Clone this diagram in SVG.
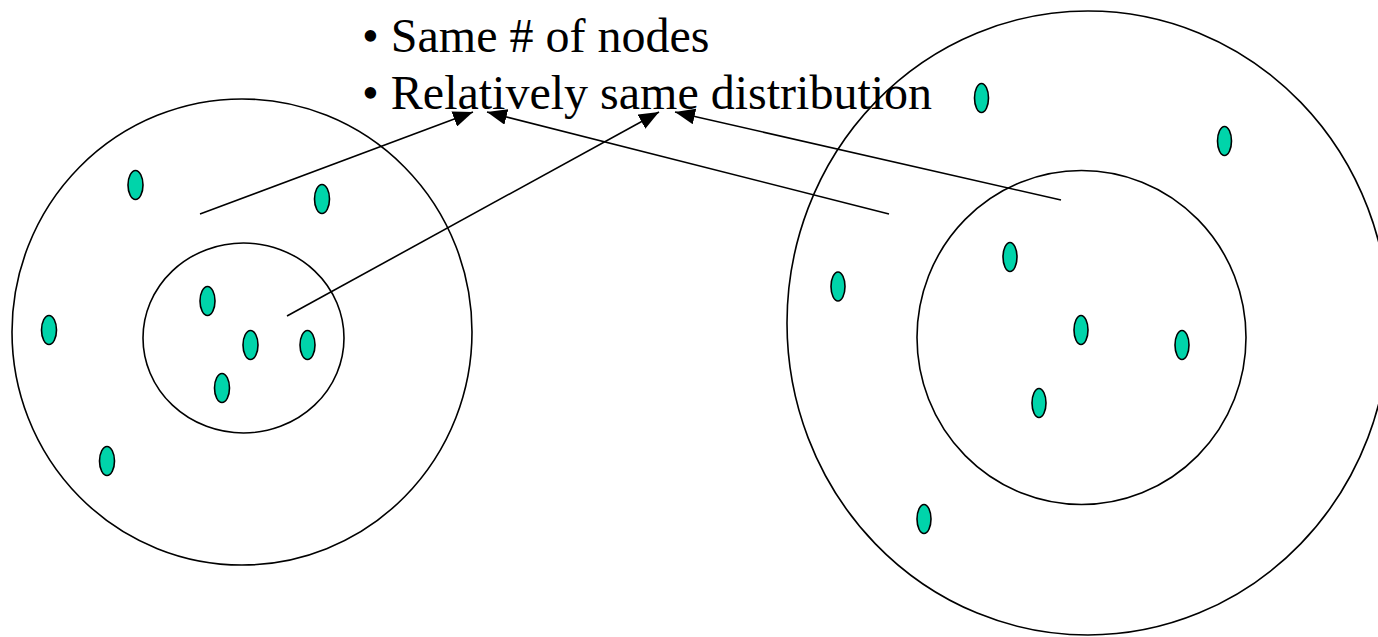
<svg xmlns="http://www.w3.org/2000/svg" width="1378" height="637" viewBox="0 0 1378 637">
<style>
.ring{fill:none;stroke:#000;stroke-width:1.6}
.dot{fill:#00D4AA;stroke:#000;stroke-width:1.6}
.conn{stroke:#000;stroke-width:1.6;fill:none}
.txt{font-family:"Liberation Serif","Times New Roman",serif;font-size:48px;fill:#000}
</style>
<defs>
<marker id="arr" viewBox="0 0 20 16" refX="20" refY="8" markerWidth="20" markerHeight="16" markerUnits="userSpaceOnUse" orient="auto">
<path d="M0,0 L20,8 L0,16 Z" fill="#000"/>
</marker>
</defs>
<rect width="1378" height="637" fill="#fff"/>
<g id="text">
<text class="txt" x="362" y="52">• Same # of nodes</text>
<text class="txt" x="362" y="109">• Relatively same distribution</text>
</g>
<g id="left-cluster">
<ellipse class="ring" cx="242" cy="332" rx="230" ry="233"/>
<ellipse class="ring" cx="243.5" cy="338" rx="100.5" ry="95"/>
<ellipse class="dot" cx="135.5" cy="185" rx="7.5" ry="14.5"/>
<ellipse class="dot" cx="322" cy="199" rx="7.5" ry="14.5"/>
<ellipse class="dot" cx="207.5" cy="301" rx="7.5" ry="14.5"/>
<ellipse class="dot" cx="250.5" cy="345" rx="7.5" ry="14.5"/>
<ellipse class="dot" cx="307.5" cy="345" rx="7.5" ry="14.5"/>
<ellipse class="dot" cx="222" cy="388" rx="7.5" ry="14.5"/>
<ellipse class="dot" cx="49" cy="330" rx="7.5" ry="14.5"/>
<ellipse class="dot" cx="107" cy="461" rx="7.5" ry="14.5"/>
</g>
<g id="right-cluster">
<ellipse class="ring" cx="1088" cy="323" rx="301" ry="312"/>
<ellipse class="ring" cx="1081.5" cy="337.5" rx="164.5" ry="167"/>
<ellipse class="dot" cx="981.5" cy="98" rx="7" ry="14.5"/>
<ellipse class="dot" cx="1224.5" cy="141" rx="7" ry="14.5"/>
<ellipse class="dot" cx="1010" cy="257" rx="7" ry="14.5"/>
<ellipse class="dot" cx="838" cy="286.5" rx="7" ry="14.5"/>
<ellipse class="dot" cx="1081" cy="330" rx="7" ry="14.5"/>
<ellipse class="dot" cx="1182" cy="345" rx="7" ry="14.5"/>
<ellipse class="dot" cx="1039" cy="403" rx="7" ry="14.5"/>
<ellipse class="dot" cx="924" cy="519" rx="7" ry="14.5"/>
</g>
<g id="connectors">
<line class="conn" x1="200" y1="214" x2="473" y2="112" marker-end="url(#arr)"/>
<line class="conn" x1="889" y1="214" x2="487" y2="112" marker-end="url(#arr)"/>
<line class="conn" x1="287" y1="316" x2="659" y2="112" marker-end="url(#arr)"/>
<line class="conn" x1="1061" y1="200" x2="675" y2="112" marker-end="url(#arr)"/>
</g>
</svg>
